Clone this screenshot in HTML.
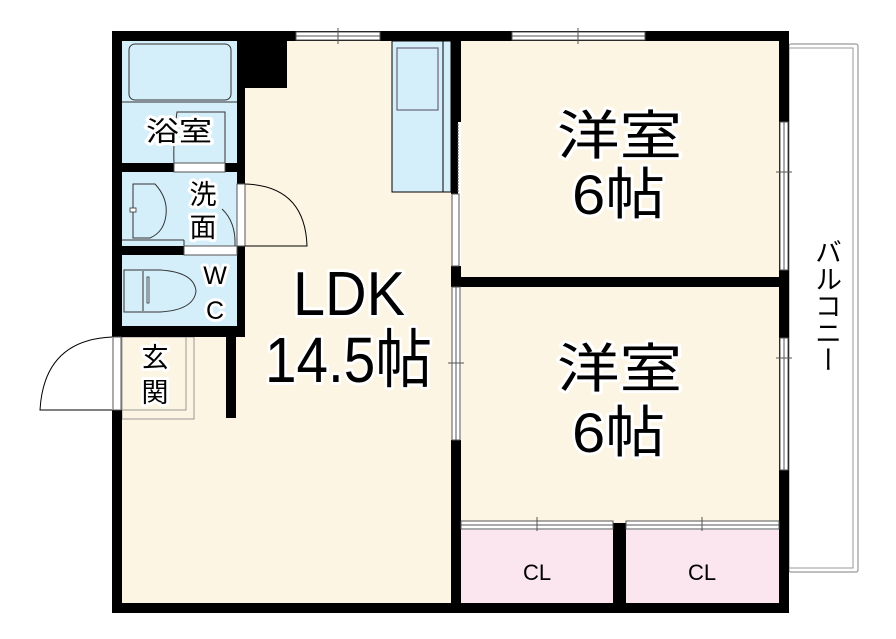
<!DOCTYPE html>
<html><head><meta charset="utf-8"><style>
html,body{margin:0;padding:0;background:#fff;}
svg{display:block;}
text{font-family:"Liberation Sans","Noto Sans CJK JP",sans-serif;fill:#000;}
.lbl{stroke:#fff;stroke-width:6;paint-order:stroke;stroke-linejoin:round;}
</style></head><body>
<svg width="896" height="639" viewBox="0 0 896 639" xmlns="http://www.w3.org/2000/svg">
<rect x="789" y="44" width="69" height="528" fill="#fff" stroke="#999" stroke-width="1.2" rx="2"/>
<rect x="789" y="48" width="64" height="520" fill="none" stroke="#999" stroke-width="1"/>
<rect x="122" y="41" width="330" height="562" fill="#fdf5e3"/>
<rect x="461" y="41" width="318" height="236" fill="#fdf5e3"/>
<rect x="461" y="287" width="318" height="236" fill="#fdf5e3"/>
<rect x="461" y="530" width="152" height="73" fill="#fbe5ee"/>
<rect x="626" y="530" width="153" height="73" fill="#fbe5ee"/>
<rect x="122" y="41" width="115" height="122" fill="#d4eefa"/>
<rect x="122" y="172" width="115" height="74" fill="#d4eefa"/>
<rect x="122" y="255" width="115" height="71" fill="#d4eefa"/>
<rect x="129" y="44" width="102" height="56" rx="6" fill="#d4eefa" stroke="#333" stroke-width="1"/>
<line x1="122" y1="102" x2="237" y2="102" stroke="#333" stroke-width="1"/>
<path d="M225 163 L225 112 L177 112 Q173 140 174 163" fill="none" stroke="#333" stroke-width="1"/>
<path d="M133 184 L155 184 Q168 198 166 215 Q164 232 150 238 L133 238 Z" fill="none" stroke="#333" stroke-width="1"/>
<line x1="122" y1="240" x2="184" y2="240" stroke="#333" stroke-width="1"/>
<line x1="184" y1="240" x2="184" y2="246" stroke="#333" stroke-width="1"/>
<rect x="130" y="208" width="6" height="4" fill="#fff" stroke="#333" stroke-width="0.8"/>
<path d="M222 209 Q236 222 235 246" fill="none" stroke="#333" stroke-width="1"/>
<path d="M124 270 L160 270 Q194 272 196 291 Q194 310 160 312 L124 312 Z" fill="none" stroke="#333" stroke-width="1"/>
<line x1="143" y1="271" x2="143" y2="311" stroke="#333" stroke-width="1"/>
<rect x="147" y="277" width="2" height="26" fill="none" stroke="#333" stroke-width="0.8"/>
<rect x="392" y="41" width="59" height="151" fill="#d4eefa" stroke="#000" stroke-width="1"/>
<rect x="397" y="48" width="41" height="62" fill="none" stroke="#667" stroke-width="1.2"/>
<line x1="443" y1="41" x2="443" y2="192" stroke="#000" stroke-width="1"/>
<rect x="122" y="337" width="72" height="82" fill="#fdf5e3" stroke="#999" stroke-width="1"/>
<rect x="122" y="337" width="64" height="73" fill="none" stroke="#999" stroke-width="1"/>
<path d="M112 337 Q44 340 40 410 L112 410" fill="none" stroke="#000" stroke-width="1"/>
<g fill="#000">
<rect x="112" y="31" width="677" height="10"/>
<rect x="112" y="31" width="10" height="306"/>
<rect x="112" y="410" width="10" height="203"/>
<rect x="112" y="603" width="677" height="10"/>
<rect x="779" y="31" width="10" height="582"/>
<rect x="237" y="31" width="50" height="57"/>
<rect x="237" y="31" width="8" height="306"/>
<rect x="112" y="326" width="133" height="11"/>
<rect x="112" y="163" width="125" height="9"/>
<rect x="112" y="246" width="125" height="9"/>
<rect x="226" y="337" width="10" height="81"/>
<rect x="451" y="31" width="10" height="91"/>
<rect x="451" y="122" width="7" height="72"/>
<rect x="451" y="266" width="10" height="21"/>
<rect x="451" y="440" width="10" height="173"/>
<rect x="451" y="277" width="338" height="10"/>
<rect x="613" y="523" width="13" height="90"/>
</g>
<g fill="#fff" stroke="#555" stroke-width="1">
<rect x="296" y="32" width="84" height="8"/>
<rect x="512" y="32" width="133" height="8"/>
<rect x="237" y="184" width="8" height="62"/>
<rect x="184" y="246" width="53" height="9"/>
<rect x="174" y="163" width="51" height="9"/>
<rect x="113" y="337" width="8" height="73"/>
<rect x="452" y="194" width="7" height="72"/>
<rect x="452" y="287" width="8" height="153"/>
<rect x="780" y="122" width="8" height="148"/>
<rect x="780" y="338" width="8" height="132"/>
<rect x="461" y="521" width="152" height="8"/>
<rect x="626" y="521" width="153" height="8"/>
</g>
<g stroke="#555" stroke-width="1">
<line x1="296" y1="36" x2="380" y2="36"/><line x1="338" y1="28" x2="338" y2="44"/>
<line x1="512" y1="36" x2="645" y2="36"/><line x1="578" y1="28" x2="578" y2="44"/>
<line x1="456" y1="287" x2="456" y2="440"/><line x1="448" y1="363" x2="464" y2="363"/>
<line x1="784" y1="122" x2="784" y2="270"/><line x1="776" y1="172" x2="792" y2="172"/>
<line x1="784" y1="338" x2="784" y2="470"/><line x1="776" y1="358" x2="792" y2="358"/>
<line x1="461" y1="525" x2="613" y2="525"/><line x1="537" y1="517" x2="537" y2="531"/>
<line x1="626" y1="525" x2="779" y2="525"/><line x1="702" y1="517" x2="702" y2="531"/>
<line x1="458" y1="124" x2="458" y2="192" stroke-dasharray="2,1"/>
</g>
<path d="M245 184 Q305 186 307 246 L245 246" fill="none" stroke="#000" stroke-width="1"/>
<text class="lbl" x="146" y="141" font-size="27" textLength="66" lengthAdjust="spacingAndGlyphs">浴室</text>
<text class="lbl" x="203" y="204" font-size="27" text-anchor="middle">洗</text>
<text class="lbl" x="203" y="237" font-size="27" text-anchor="middle">面</text>
<text class="lbl" x="215" y="284" font-size="25" text-anchor="middle">W</text>
<text class="lbl" x="215" y="319" font-size="25" text-anchor="middle">C</text>
<text class="lbl" x="155" y="367" font-size="27" text-anchor="middle">玄</text>
<text class="lbl" x="155" y="402" font-size="27" text-anchor="middle">関</text>
<text class="lbl" x="293" y="315" font-size="62" textLength="112" lengthAdjust="spacingAndGlyphs">LDK</text>
<text class="lbl" x="265" y="382" font-size="64" textLength="167" lengthAdjust="spacingAndGlyphs">14.5帖</text>
<text class="lbl" x="557" y="154" font-size="53" textLength="125" lengthAdjust="spacingAndGlyphs">洋室</text>
<text class="lbl" x="572" y="214" font-size="56" textLength="93" lengthAdjust="spacingAndGlyphs">6帖</text>
<text class="lbl" x="557" y="387" font-size="53" textLength="125" lengthAdjust="spacingAndGlyphs">洋室</text>
<text class="lbl" x="572" y="452" font-size="56" textLength="93" lengthAdjust="spacingAndGlyphs">6帖</text>
<text x="537" y="580" font-size="22" text-anchor="middle">CL</text>
<text x="702" y="580" font-size="22" text-anchor="middle">CL</text>
<text x="826" y="238" font-size="27" writing-mode="tb" glyph-orientation-vertical="0" text-anchor="start">バルコニー</text>
</svg>
</body></html>
